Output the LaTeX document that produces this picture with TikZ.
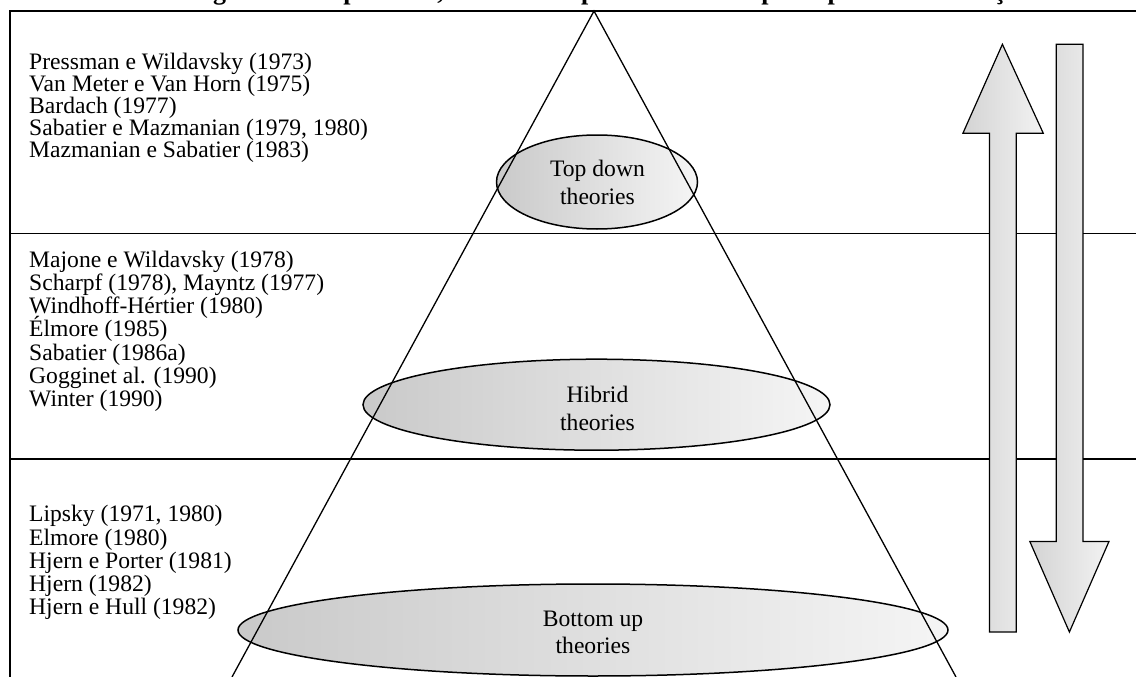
\documentclass[tikz,border=0pt]{standalone}
\usepackage{fontspec}
\setmainfont{Liberation Serif}
\usetikzlibrary{shapes.geometric}
\begin{document}
\begin{tikzpicture}[x=1pt,y=-1pt,
  txt/.style={anchor=base west, inner sep=0pt, font=\fontsize{23.6}{22}\selectfont},
  etxt/.style={align=center, inner sep=0pt, font=\fontsize{23.6}{27.3}\selectfont},
  oval/.style={ellipse, draw, line width=1.5pt, left color=black!21, right color=black!4, inner sep=0pt},
  band/.style={line width=1.2pt},
  cone/.style={line width=1.3pt},
  bigarrow/.style={draw, line width=1.2pt, left color=black!17, right color=black!5, line join=miter}]
\clip (0,0) rectangle (1136,677);
\useasboundingbox (0,0) rectangle (1136,677);
% title (cut off by the top edge)
\node[anchor=base, inner sep=0pt, font=\fontsize{26}{30}\selectfont\bfseries] (title) at (615,-0.5)
  {\hbox to 850pt{Figura 1 Top down, Bottom up e Hibrid: principais contribuições}};
% frame and bands
\draw[line width=2.2pt] (10,700) -- (10,11) -- (1160,11);
\coordinate (d1l) at (10,233.5); \coordinate (d1r) at (1140,233.5);
\coordinate (d2l) at (10,459);   \coordinate (d2r) at (1140,459);
\draw[band] (d1l) -- (d1r);
\draw[band] (d2l) -- (d2r);
% ellipses
\node[oval, minimum width=201pt, minimum height=94pt] (td) at (597,182) {};
\node[oval, minimum width=467pt, minimum height=91pt] (hy) at (596.5,404.7) {};
\node[oval, minimum width=710pt, minimum height=92pt] (bu) at (593,630) {};
% cone
\coordinate (apex) at (594,11);
\coordinate (bl) at (232,677);
\coordinate (br) at (956,677);
\draw[cone] (bl) -- (apex) -- (br);
% ellipse texts
\node[etxt] (tdt) at (597.5,182.3) {Top down\\theories};
\node[etxt] (hyt) at (597.5,408.3) {Hibrid\\theories};
\node[etxt] (but) at (593,632.6) {Bottom up\\theories};
% left column texts
\foreach \t [count=\i] in {Pressman e Wildavsky (1973), Van Meter e Van Horn (1975), Bardach (1977), {Sabatier e Mazmanian (1979, 1980)}, Mazmanian e Sabatier (1983)}
  \node[txt] (a\i) at (29,{70+21.9*(\i-1)}) {\t};
\foreach \t [count=\i] in {Majone e Wildavsky (1978), {Scharpf (1978), Mayntz (1977)}, Windhoff-Hértier (1980), Élmore (1985), Sabatier (1986a), Gogginet al. (1990), Winter (1990)}
  \node[txt] (b\i) at (29,{267+23.3*(\i-1)}) {\t};
\foreach \t [count=\i] in {{Lipsky (1971, 1980)}, Elmore (1980), Hjern e Porter (1981), Hjern (1982), Hjern e Hull (1982)}
  \node[txt] (c\i) at (29,{521.7+23.3*(\i-1)}) {\t};
% block arrows
\path[bigarrow] (1002.4,44.3) -- (1043.3,133.3) -- (1016.3,133.3) -- (1016.3,632) -- (989.4,632) -- (989.4,133.3) -- (962.9,133.3) -- cycle;
\path[bigarrow] (1056.3,44.3) -- (1082.9,44.3) -- (1082.9,541.4) -- (1109,541.4) -- (1069.4,632) -- (1029.8,541.4) -- (1056.3,541.4) -- cycle;
\end{tikzpicture}
\end{document}
